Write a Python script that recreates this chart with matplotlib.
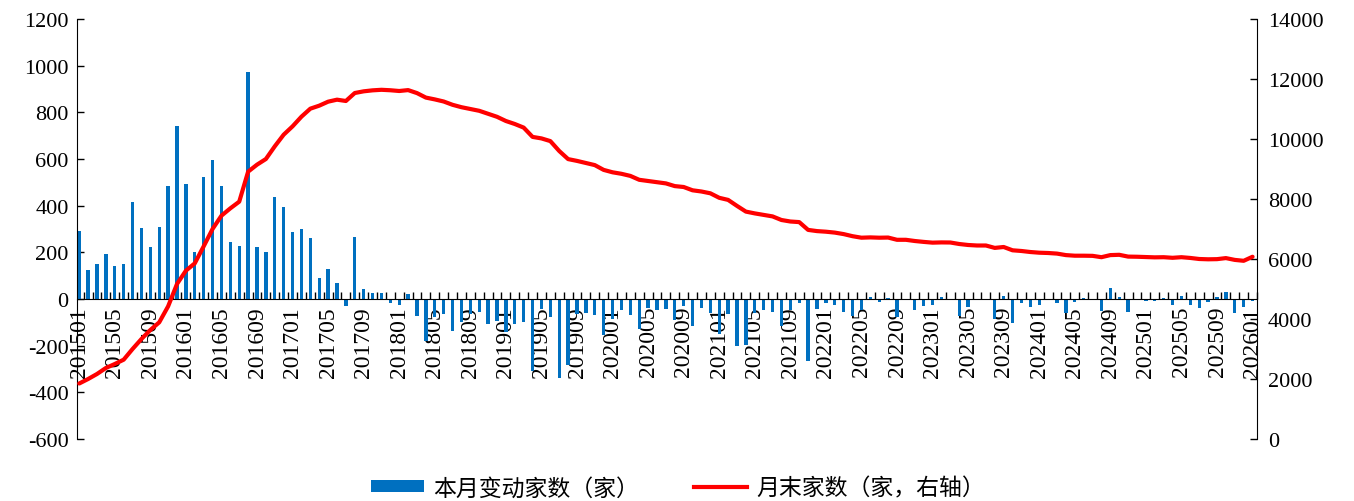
import matplotlib
matplotlib.use("Agg")
import matplotlib.pyplot as plt
from matplotlib.patches import Patch
from matplotlib.lines import Line2D
import numpy as np

# ---- data ----
months = [f"{y}{m:02d}" for y in range(2015, 2026) for m in range(1, 13)] + ["202601"]

monthly_change = [
    290, 126, 152, 191, 142, 148, 414, 304, 224, 308, 486, 741,
    491, 201, 521, 595, 486, 246, 229, 975, 225, 201, 438, 396,
    289, 299, 263, 88, 129, 68, -31, 265, 42, 24, 24, -16,
    -26, 21, -72, -181, -75, -66, -138, -100, -65, -55, -106, -95,
    -142, -107, -99, -309, -44, -77, -340, -284, -64, -62, -70, -155,
    -85, -48, -69, -129, -38, -48, -41, -88, -28, -117, -38, -59,
    -148, -64, -202, -198, -62, -48, -55, -117, -49, -16, -267, -42,
    -16, -26, -55, -71, -49, 9, -12, 5, -78, -3, -45, -29,
    -27, 8, -3, -74, -34, -4, -4, -85, 15, -102, -18, -34,
    -26, -4, -17, -60, -13, 4, -2, -52, 48, 8, -56, -2,
    -10, -10, 5, -24, 14, -24, -38, -14, 10, 30, -62, -35,
    -10,
]

month_end_count = [
    1850, 2000, 2167, 2367, 2500, 2644, 3000, 3333, 3633, 3889, 4422, 5167,
    5611, 5856, 6422, 7000, 7444, 7689, 7911, 8911, 9144, 9333, 9756, 10144,
    10422, 10744, 11011, 11111, 11244, 11311, 11267, 11533, 11589, 11622, 11640, 11625,
    11600, 11630, 11530, 11380, 11320, 11250, 11140, 11060, 11000, 10940, 10840, 10740,
    10600, 10500, 10380, 10070, 10020, 9930, 9600, 9330, 9270, 9200, 9130, 8970,
    8890, 8840, 8770, 8640, 8600, 8560, 8520, 8430, 8400, 8290, 8250, 8190,
    8040, 7970, 7770, 7580, 7520, 7470, 7420, 7300, 7250, 7230, 6970, 6930,
    6910, 6880, 6830, 6760, 6710, 6720, 6710, 6715, 6640, 6640, 6600, 6570,
    6545, 6553, 6550, 6500, 6467, 6450, 6450, 6370, 6400, 6290, 6267, 6233,
    6210, 6200, 6180, 6130, 6110, 6110, 6105, 6060, 6130, 6140, 6080, 6075,
    6065, 6055, 6060, 6040, 6060, 6035, 6000, 5990, 5995, 6030, 5970, 5940,
    6075,
]

left_ticks = [-600, -400, -200, 0, 200, 400, 600, 800, 1000, 1200]
right_ticks = [0, 2000, 4000, 6000, 8000, 10000, 12000, 14000]
label_bar = "本月变动家数（家）"
label_line = "月末家数（家，右轴）"

# ---- style ----
serif = ["Liberation Serif", "DejaVu Serif"]
cjk = ["Noto Sans CJK SC", "DejaVu Sans"]
bar_color = "#0070C0"
line_color = "#FF0000"
fs = 16

fig = plt.figure(figsize=(13.54, 5.02), dpi=100)
ax = fig.add_axes([77 / 1354, 1 - 440 / 502, (1257 - 77) / 1354, 420 / 502])
x = np.arange(len(months))

ax.bar(x, monthly_change, width=0.38, color=bar_color, zorder=2)
ax.set_ylim(-600, 1200)
ax.set_xlim(-0.25, len(months) - 1 + 0.45)
ax.set_yticks(left_ticks)
ax.set_yticklabels([str(t) for t in left_ticks], fontsize=fs, fontfamily=serif)
ax.tick_params(axis="y", direction="in", length=5, width=1, pad=6)

ax.spines["top"].set_visible(False)
ax.spines["right"].set_visible(False)
ax.spines["bottom"].set_position(("data", 0))
ax.spines["bottom"].set_zorder(3)

ax.set_xticks(x[::4])
ax.set_xticklabels(months[::4], rotation=90, fontsize=17, fontfamily=serif)
ax.set_xticks(np.arange(len(months)) + 0.5, minor=True)
ax.tick_params(axis="x", which="major", length=0, pad=5)
ax.tick_params(axis="x", which="minor", direction="in", length=5, width=1)

ax2 = ax.twinx()
ax2.plot(x, month_end_count, color=line_color, lw=3.0, solid_capstyle="round", zorder=4)
ax2.set_ylim(0, 14000)
ax2.set_yticks(right_ticks)
ax2.set_yticklabels([str(t) for t in right_ticks], fontsize=fs, fontfamily=serif)
ax2.tick_params(axis="y", direction="in", length=5, width=1, pad=8)
ax2.spines["top"].set_visible(False)
ax2.spines["bottom"].set_visible(False)
ax2.spines["left"].set_visible(False)

handles = [Patch(facecolor=bar_color, edgecolor="none"),
           Line2D([], [], color=line_color, lw=3.0)]
fig.legend(handles, [label_bar, label_line], loc="center",
           bbox_to_anchor=(678 / 1354, 13 / 502), ncol=2, frameon=False,
           prop={"family": cjk, "size": 16.5}, handlelength=2.3, handleheight=0.45,
           columnspacing=2.4, handletextpad=0.4)

fig.savefig("out.png", dpi=100)
